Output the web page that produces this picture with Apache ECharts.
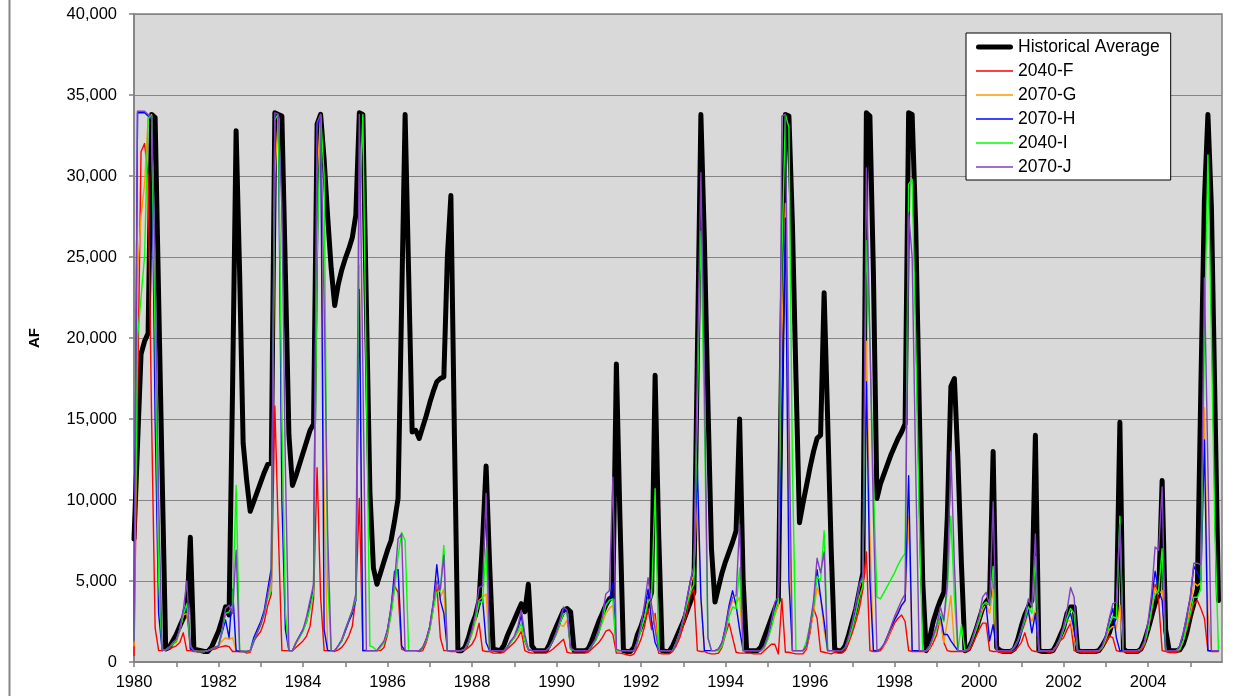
<!DOCTYPE html>
<html><head><meta charset="utf-8">
<script src="https://cdn.jsdelivr.net/npm/echarts@6/dist/echarts.min.js"></script>
<style>html,body{margin:0;padding:0;background:#fff}#chart{width:1249px;height:696px}</style>
</head><body><div id="chart"></div>
<script>
// Monthly values starting January 1980 (one row per year)
const startYear = 1980;
const seriesNames = ['Historical Average', '2040-F', '2070-G', '2070-H', '2040-I', '2070-J'];
const yTickValues = [0, 5000, 10000, 15000, 20000, 25000, 30000, 35000, 40000];

const histAvg = [
 7600,13400,19000,19800,20300,33800,33600,22500,11500,800,900,1300,
 1700,2200,2700,3000,7700,800,750,700,650,650,900,1400,
 1900,2600,3400,2900,17000,32800,24000,13500,11200,9300,9900,10500,
 11100,11700,12200,12300,33900,33800,33700,24000,14000,10900,11500,12200,
 12900,13600,14300,14700,33200,33800,31000,27500,24300,22000,23300,24200,
 24900,25500,26200,27600,33900,33800,22000,10500,5800,4800,5500,6200,
 6900,7500,8700,10100,22000,33800,24000,14200,14300,13800,14500,15200,
 16000,16700,17300,17500,17600,25000,28800,14000,700,700,900,1500,
 2300,2900,3800,7500,12100,6000,800,750,700,1000,1600,2100,
 2600,3100,3600,3100,4800,1000,700,700,700,700,1100,1700,
 2200,2700,3200,3300,3100,700,700,700,700,800,1300,1900,
 2500,3000,3500,3900,4000,18400,9000,700,650,650,900,1700,
 2200,2900,3600,4300,17700,8000,700,650,650,1000,1500,2000,
 2500,3100,3700,4300,19000,33800,26000,16000,7000,3700,4600,5500,
 6200,6800,7400,8100,15000,5000,700,700,700,700,900,1500,
 2100,2700,3300,3800,20000,33800,33700,27000,17600,8600,9800,10900,
 12000,13000,13800,14000,22800,15000,7000,800,700,700,1000,1700,
 2500,3300,4400,5500,33900,33700,24000,10100,11000,11600,12200,12800,
 13300,13800,14200,14700,33900,33800,27000,16000,5000,700,1500,2500,
 3200,3800,4300,9000,17000,17500,12500,6000,700,800,1300,1900,
 2600,3300,3700,4000,13000,900,700,650,650,650,800,1400,
 2200,2900,3400,3800,14000,700,650,650,650,700,1100,1600,
 2100,3000,3400,3400,700,650,650,650,650,650,700,1000,
 1400,1800,2500,3000,14800,800,650,650,650,650,800,1300,
 2000,2800,3600,4200,11200,2000,700,700,700,750,1100,1800,
 2800,3600,4500,17000,28500,33800,28000,16000,3800
];

const f2040 = [
 400,16000,31500,32000,30000,15000,2100,700,700,750,800,900,
 1000,1200,1800,700,700,650,650,650,650,700,750,800,
 900,950,1000,950,650,650,650,650,550,600,1300,1600,
 1900,2500,3500,4200,15800,8000,700,700,700,700,900,1100,
 1300,1600,2200,3900,12000,4000,700,700,700,650,750,900,
 1200,1600,2200,4000,10100,700,700,700,700,700,700,900,
 1700,3000,4700,4300,800,700,700,700,700,650,700,1200,
 2000,3300,4800,1500,700,700,650,650,650,700,750,900,
 1100,1500,2400,700,650,650,550,550,550,600,800,1000,
 1200,1500,1900,700,600,550,550,550,550,550,650,800,
 1000,1200,1400,600,550,550,550,550,550,600,800,1000,
 1200,1500,1900,2000,1700,550,550,500,450,400,500,900,
 1400,2200,3300,2000,3000,550,500,500,500,650,1000,1500,
 2200,3000,4100,4500,700,650,650,550,500,500,550,900,
 1700,2400,1500,600,550,550,550,550,500,500,500,700,
 900,1100,1100,500,3900,600,600,550,500,500,500,800,
 1800,3300,2700,650,600,550,500,600,550,550,700,1200,
 1800,2500,3300,4500,6800,700,650,650,700,1000,1400,1900,
 2400,2700,2900,2500,700,650,650,650,650,650,800,1200,
 1700,2800,1200,700,650,650,650,650,650,700,1000,1500,
 2000,2400,2400,700,650,650,600,600,600,600,700,900,
 1200,1800,1000,700,650,650,650,650,600,650,900,1300,
 1500,2000,2400,700,650,600,600,600,600,600,650,900,
 1200,1600,1500,700,650,650,600,600,600,600,700,1000,
 2000,3000,4800,3800,700,650,600,600,600,700,1300,2000,
 2800,3600,3800,3300,2700,700,650,650,650
];

const g2070 = [
 1000,24000,27500,29500,33500,33800,20000,5000,700,750,900,1100,
 1200,1900,2900,3000,800,700,650,650,650,700,800,900,
 1000,1300,1500,1400,1500,700,650,650,650,650,1300,2000,
 2300,3000,4000,4800,30000,33700,14000,3000,700,700,1100,1500,
 1900,2500,3300,4400,30000,33700,10000,700,700,700,1000,1300,
 1900,2500,3000,3800,24500,800,700,700,700,700,900,1200,
 1900,3000,5000,5700,1000,700,700,700,700,700,900,1400,
 2100,3500,5000,4000,4500,700,700,700,700,700,800,1200,
 1700,2500,3800,4000,4200,700,700,700,700,700,900,1200,
 1500,1800,2100,1300,750,700,700,700,700,700,900,1300,
 1700,2300,2200,2600,800,700,700,700,700,700,1000,1300,
 1800,2400,3000,3300,3500,700,700,700,700,700,700,1300,
 2100,2800,3900,3500,2500,700,700,700,700,700,1200,1800,
 2600,3700,4800,5400,10500,4000,700,700,700,700,700,1100,
 2000,3100,3800,3600,4000,700,700,700,700,700,700,900,
 1400,2100,2900,3500,20000,28300,10000,700,700,700,700,900,
 2000,3000,4600,4000,2000,700,700,700,700,700,900,1400,
 2200,3300,4600,5300,19800,8000,700,700,800,1000,1500,2000,
 2600,3200,3500,3700,9000,700,700,700,700,700,900,1500,
 2100,2700,1200,2500,4100,1000,700,700,700,800,1300,1900,
 2500,3200,3600,3000,4500,700,700,700,700,700,900,1300,
 1800,2300,3000,2500,3200,700,700,700,700,700,1000,1400,
 2000,2600,2500,1500,700,700,700,700,700,700,700,900,
 1400,2000,2200,2100,3500,700,700,700,700,700,800,1200,
 2100,3400,4600,4200,4400,700,700,700,700,800,1300,2200,
 3500,4900,4700,4900,15700,3000,700,700,700
];

const h2070 = [
 1400,33900,33900,33900,33700,33500,15000,3000,700,750,900,1100,
 1300,2100,3200,3500,800,700,650,650,650,700,800,900,
 1000,1800,2600,1500,4500,700,650,650,650,700,1500,2000,
 2500,3200,4500,5800,33800,33600,10000,2000,700,700,1200,1600,
 2000,2500,3600,4500,33000,33800,2000,700,700,700,1000,1300,
 1900,2500,3000,3800,23000,700,700,700,700,700,1000,1200,
 2000,3300,5600,5700,1000,700,700,700,700,700,900,1400,
 2200,3600,6000,3800,3000,700,700,700,700,700,800,1200,
 1900,2800,3700,3900,1200,700,700,700,700,700,900,1300,
 1500,2000,2900,1300,750,700,700,700,700,700,900,1300,
 1800,2400,3200,3100,800,700,700,700,700,700,1000,1300,
 1800,2700,3600,3800,4900,700,700,700,700,700,700,1300,
 2200,3300,4500,2500,1200,700,700,700,700,700,1200,1800,
 2700,3800,5000,5800,12000,4000,700,700,700,700,800,1200,
 2200,3500,4400,3500,2000,700,700,700,700,700,700,900,
 1500,2300,3400,4000,15000,27400,5000,700,700,700,700,1000,
 2200,3500,5700,4000,2500,700,700,700,700,700,900,1500,
 2300,3400,4800,5500,17300,5000,700,700,800,1100,1600,2100,
 2600,3000,3500,3800,11500,700,700,700,700,700,1000,1600,
 2200,2900,1700,1700,1300,1000,700,700,700,800,1300,2000,
 2700,3500,3500,1300,2300,700,700,700,700,700,800,1200,
 1800,2500,3200,1800,3000,700,700,700,700,700,1000,1400,
 2000,2600,3000,2000,700,700,700,700,700,700,700,1000,
 1700,2600,3300,1500,700,700,700,700,700,700,800,1300,
 2300,3800,5600,4400,3800,700,700,700,700,1000,1800,2800,
 4000,5900,5500,5000,13700,700,700,700,700
];

const i2040 = [
 1300,20000,22500,25000,33600,33700,20000,5000,700,750,900,1100,
 1300,2000,2900,3600,1000,700,650,650,650,700,800,900,
 1000,1900,3000,3100,3500,10900,700,650,650,700,1300,1800,
 2300,3000,4000,4400,33500,33800,15000,3000,700,700,1200,1500,
 1900,2500,3300,4300,25000,33800,30000,5000,700,700,1000,1300,
 2000,2600,3200,3900,28000,33800,17000,1000,900,700,900,1200,
 1800,2900,4500,6500,8000,7500,700,700,700,700,900,1300,
 2000,3300,4300,4400,7200,700,700,700,700,700,800,1200,
 1800,2700,3700,3700,7000,700,700,700,700,700,900,1200,
 1500,1900,2400,1300,800,700,700,700,700,700,900,1300,
 1800,2400,3000,3000,800,700,700,700,700,700,1000,1300,
 1800,2500,3500,3800,3900,700,700,700,700,700,700,1200,
 2000,2700,3700,4000,10700,700,700,700,700,700,1200,1800,
 2600,3500,4300,4800,15700,26600,15000,1500,700,700,700,1000,
 1800,2800,3400,3300,5800,700,700,700,700,700,700,900,
 1400,2100,3100,3800,25000,33800,33000,12000,700,700,700,1300,
 2300,3500,5300,5000,8100,700,700,700,700,700,900,1400,
 2100,3000,4000,4700,26000,20000,11000,4000,3900,4300,4700,5100,
 5500,6000,6400,6700,29500,29800,20000,9000,700,700,1000,1500,
 2100,3000,2500,4500,9000,4000,700,2300,700,800,1300,1900,
 2600,3500,3700,3500,5900,700,700,700,700,700,900,1300,
 1900,2600,3400,3000,6500,700,700,700,700,700,1000,1400,
 2000,2700,3300,3000,700,700,700,700,700,700,700,900,
 1500,2300,2800,2700,9000,700,700,700,700,700,800,1200,
 2000,3200,4200,4400,7000,700,700,700,700,800,1300,2200,
 3000,4000,4000,4500,20000,31300,20000,8000,700
];

const j2070 = [
 1300,34000,34000,34000,33800,33700,25000,10000,700,750,900,1200,
 1400,2000,3200,5000,1000,700,650,650,650,700,800,900,
 1000,2000,3300,3500,3000,6900,700,650,650,700,1200,1800,
 2300,3000,4200,5300,33900,33800,28000,12000,700,700,1200,1600,
 2000,2800,3800,4800,33300,33800,22000,8000,700,700,1000,1400,
 2000,2600,3200,4200,33800,18000,700,700,700,700,1000,1300,
 2000,3400,5000,7600,7900,700,700,700,700,700,900,1400,
 2200,3700,5000,4500,6600,700,700,700,700,700,800,1300,
 2000,3000,4600,4700,10400,700,700,700,700,700,900,1300,
 1600,2200,3200,1700,800,700,700,700,700,700,900,1300,
 1900,2600,3400,3200,900,700,700,700,700,700,1000,1400,
 2000,2800,4200,4400,11400,800,700,700,700,700,700,1300,
 2300,3600,5200,3500,2000,700,700,700,700,700,1200,1800,
 2700,3900,5000,5900,18000,30200,18000,1500,700,700,800,1200,
 2100,3300,4000,4100,8500,700,700,700,700,700,700,1000,
 1600,2500,3700,4000,33700,33800,15000,700,700,700,700,1000,
 2300,3800,6400,5500,6800,700,700,700,700,700,900,1600,
 2500,3600,4800,5300,30500,20000,9000,700,800,1100,1600,2200,
 2800,3300,3800,4200,27700,25000,12000,700,700,700,1000,1600,
 2300,3400,2600,5000,13000,6000,700,700,700,800,1400,2100,
 2800,4000,4300,3500,9900,700,700,700,700,700,900,1300,
 2000,2800,3900,3400,7900,700,700,700,700,700,1000,1500,
 2200,3200,4600,4000,700,700,700,700,700,700,700,1000,
 1600,2700,3600,3700,8500,700,700,700,700,700,800,1300,
 2500,4200,7100,6900,10800,700,700,700,700,1000,1800,2900,
 4000,6100,6100,6000,23700,12000,700,700,700
];

const seriesValues = [histAvg, f2040, g2070, h2070, i2040, j2070];
const seriesColors = ['#000000', '#FF0000', '#FF9900', '#0000FF', '#00FF00', '#7F3FBF'];
const seriesWidths = [5, 1.4, 1.4, 1.4, 1.4, 1.4];

const monthPos = histAvg.map((_, i) => startYear + i / 12);
const FONT = '"Liberation Sans", Arial, Helvetica, sans-serif';

const chart = echarts.init(document.getElementById('chart'), null, {renderer: 'canvas'});
chart.setOption({
  animation: false,
  backgroundColor: '#ffffff',
  textStyle: {fontFamily: FONT},
  graphic: [{
    type: 'rect', left: 7, top: -10, z: 100, silent: true,
    shape: {width: 1300, height: 720},
    style: {fill: 'none', stroke: '#868686', lineWidth: 2}
  }],
  grid: {
    left: 134, top: 14, width: 1088, height: 648,
    show: true, backgroundColor: '#D9D9D9', borderColor: '#808080', borderWidth: 1.5,
    containLabel: false, outerBoundsMode: 'none'
  },
  legend: {
    show: true, orient: 'vertical', left: 966, top: 33,
    padding: [5, 11, 4, 10], itemGap: 6, itemWidth: 37, itemHeight: 14,
    backgroundColor: '#ffffff', borderColor: '#000000', borderWidth: 1, borderRadius: 0,
    textStyle: {fontFamily: FONT, fontSize: 17.5, lineHeight: 18, color: '#000'},
    data: seriesNames.map((n, k) => ({
      name: n,
      icon: k === 0 ? 'path://M2.5,0 L34.5,0 A2.5,2.5 0 0 1 34.5,5 L2.5,5 A2.5,2.5 0 0 1 2.5,0 Z'
                    : 'path://M0,0 L37,0 L37,1.5 L0,1.5 Z',
      itemStyle: {color: seriesColors[k]}
    }))
  },
  xAxis: {
    type: 'value', min: 1980, max: 2005.75, interval: 1,
    splitLine: {show: false},
    axisLine: {show: true, lineStyle: {color: '#808080', width: 1.5}},
    axisTick: {show: true, inside: false, length: 5, lineStyle: {color: '#808080', width: 1.5}},
    axisLabel: {
      margin: 12, fontSize: 16.5, color: '#000', fontFamily: FONT,
      showMaxLabel: false,
      formatter: v => (Number.isInteger(v) && v % 2 === 0) ? String(v) : ''
    }
  },
  yAxis: {
    type: 'value', min: 0, max: 40000, interval: 5000,
    name: 'AF', nameLocation: 'middle', nameGap: 92, nameRotate: 90,
    nameTextStyle: {fontSize: 15, fontWeight: 'bold', color: '#000', fontFamily: FONT},
    splitLine: {show: true, lineStyle: {color: '#858585', width: 1.2}},
    axisLine: {show: true, lineStyle: {color: '#808080', width: 1.5}},
    axisTick: {show: true, inside: false, length: 5, lineStyle: {color: '#808080', width: 1.5}},
    axisLabel: {
      margin: 17, fontSize: 16.5, color: '#000', fontFamily: FONT,
      formatter: v => v.toLocaleString('en-US')
    }
  },
  series: seriesNames.map((n, k) => ({
    name: n, type: 'line', showSymbol: false, symbol: 'none',
    data: seriesValues[k].map((v, i) => [monthPos[i], v]),
    color: seriesColors[k],
    lineStyle: {color: seriesColors[k], width: seriesWidths[k], cap: 'round', join: 'round'},
    z: 2 + k, emphasis: {disabled: true}
  }))
});
</script></body></html>
